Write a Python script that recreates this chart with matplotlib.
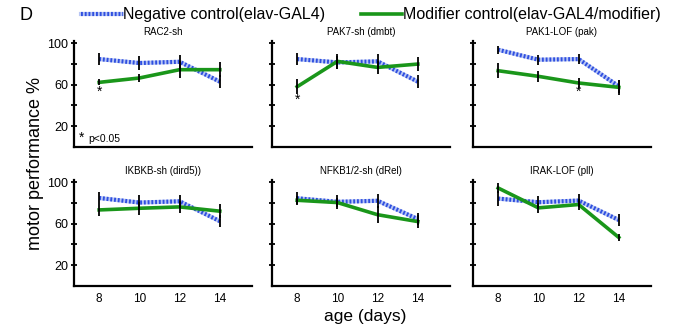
import matplotlib
matplotlib.use("Agg")
import matplotlib.pyplot as plt
from matplotlib.lines import Line2D
import numpy as np

days = [8, 10, 12, 14]
titles = ["RAC2-sh", "PAK7-sh (dmbt)", "PAK1-LOF (pak)",
          "IKBKB-sh (dird5))", "NFKB1/2-sh (dRel)", "IRAK-LOF (pll)"]

neg_vals = [[84.6, 80.8, 82.0, 62.9],
            [84.6, 81.4, 82.4, 62.9],
            [93.6, 84.0, 84.6, 58.4],
            [84.7, 80.3, 81.5, 62.4],
            [84.4, 81.0, 82.0, 64.4],
            [84.1, 80.6, 82.2, 63.5]]
neg_err = [[6, 7, 7, 6],
           [6, 6, 7, 6],
           [4, 5, 5, 6],
           [6, 7, 6, 6],
           [6, 7, 7, 6],
           [7, 6, 6, 6]]
mod_vals = [[62.2, 66.4, 74.4, 74.4],
            [58.0, 82.4, 76.6, 79.8],
            [73.4, 68.0, 61.6, 57.4],
            [73.2, 74.8, 76.1, 72.0],
            [82.5, 80.3, 68.6, 62.0],
            [94.3, 75.2, 78.4, 46.7]]
mod_err = [[3, 4, 8, 7],
           [7, 7, 6, 7],
           [7, 5, 5, 7],
           [6, 6, 6, 7],
           [4, 4, 8, 6],
           [5, 5, 5, 3]]
# significance stars: (panel index, day, y value)
stars = [(0, 8, 53.0), (1, 8, 45.5), (2, 12, 53.5)]

neg_label = "Negative control(elav-GAL4)"
mod_label = "Modifier control(elav-GAL4/modifier)"

W, H = 681, 328
fig = plt.figure(figsize=(W / 100, H / 100), dpi=100)
plt.rcParams['font.family'] = ['Liberation Sans', 'DejaVu Sans']

blue = "#2f4fe0"
blue_light = "#b8c6f4"
green = "#1a961a"

lefts = [74, 272, 473]
tops = [41, 180]
aw, ah = 178, 106

axes = []
for r in range(2):
    for c in range(3):
        x0 = lefts[c] / W
        y0 = 1 - (tops[r] + ah) / H
        ax = fig.add_axes([x0, y0, aw / W, ah / H])
        axes.append(ax)

for i, ax in enumerate(axes):
    r, c = divmod(i, 3)
    ax.plot(days, neg_vals[i], color=blue_light, lw=3.0, solid_capstyle='butt', zorder=2)
    ax.plot(days, neg_vals[i], color=blue, lw=3.0, linestyle=(0, (0.45, 0.45)), zorder=2.1)
    ax.plot(days, mod_vals[i], color=green, lw=2.6, zorder=3)
    ax.errorbar(days, neg_vals[i], yerr=neg_err[i], fmt='none', ecolor='black',
                elinewidth=1.3, capsize=0, zorder=4)
    ax.errorbar(days, mod_vals[i], yerr=mod_err[i], fmt='none', ecolor='black',
                elinewidth=1.3, capsize=0, zorder=4)
    ax.set_xlim(6.75, 15.6)
    ax.set_ylim(0, 102)
    for s in ['top', 'right']:
        ax.spines[s].set_visible(False)
    for s in ['left', 'bottom']:
        ax.spines[s].set_linewidth(1.6)
    ax.set_yticks([20, 60, 100])
    ax.set_yticks([40, 80], minor=True)
    ax.tick_params(axis='y', which='both', direction='inout', length=4, width=1.3,
                   labelsize=9, pad=2)
    ax.set_xticks(days)
    ax.tick_params(axis='x', length=0, labelsize=8.5, pad=5)
    if c != 0:
        ax.set_yticklabels([])
    if r == 0:
        ax.set_xticklabels([])
    ax.set_title(titles[i], fontsize=7, pad=4)

for (pi, d, yv) in stars:
    axes[pi].text(d, yv, "*", ha='center', va='center', fontsize=10)

axes[0].text(7.0, 9, "*", ha='left', va='center', fontsize=10)
axes[0].text(7.45, 8, "p<0.05", ha='left', va='center', fontsize=7.5)

fig.text(36 / W, 1 - 163 / H, "motor performance %", rotation=90, ha='center',
         va='center', fontsize=13)
fig.text(365 / W, 1 - 316.5 / H, "age (days)", ha='center', va='center', fontsize=12.5)
fig.text(26 / W, 1 - 16 / H, "D", ha='center', va='center', fontsize=13)

h_neg = [Line2D([], [], color=blue_light, lw=3), Line2D([], [], color=blue, lw=3, linestyle=(0, (0.45, 0.45)))]
h_mod = Line2D([], [], color=green, lw=2.6)
fig.legend([tuple(h_neg), h_mod], [neg_label, mod_label],
           loc='center', bbox_to_anchor=(371 / W, 1 - 15 / H), ncol=2,
           frameon=False, fontsize=11.5, handlelength=2.6, handletextpad=0.05,
           columnspacing=2.2, borderaxespad=0, borderpad=0)

fig.savefig("out.png", dpi=100)
